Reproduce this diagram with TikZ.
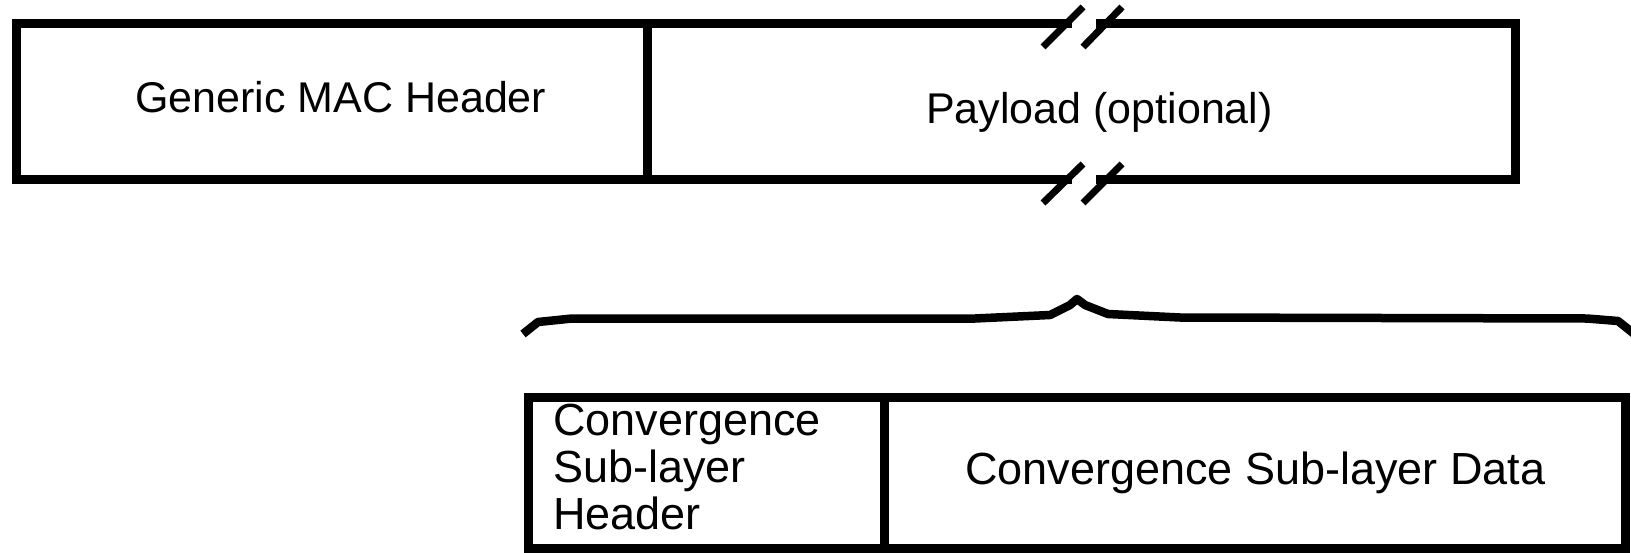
\documentclass[tikz,border=0pt]{standalone}
\usepackage{fontspec}
\setmainfont{Liberation Sans}
\begin{document}
\begin{tikzpicture}[x=1pt,y=-1pt,
  frame/.style={line width=9pt,line join=miter,line cap=rect},
  breakmark/.style={line width=7pt},
  bracestyle/.style={line width=8.5pt,line join=round},
  toplabel/.style={inner sep=0pt,font=\fontsize{43}{47}\selectfont},
  botlabel/.style={inner sep=0pt,font=\fontsize{45}{47}\selectfont}]
\useasboundingbox (0,0) rectangle (1631,552);
% top box, left part (up to the break)
\draw[frame] (1067,23) -- (16,23) -- (16,179) -- (1067,179);
% top box, right part (after the break)
\draw[frame] (1100,23) -- (1515,23) -- (1515,179) -- (1100,179);
\draw[frame,line cap=butt] (647,23) -- (647,184);
% break marks
\draw[breakmark] (1043,47) -- (1083,7);
\draw[breakmark] (1083,47) -- (1122,7);
\draw[breakmark] (1043,203) -- (1083,164);
\draw[breakmark] (1083,203) -- (1122,164);
\node[toplabel,anchor=base west] (gmh) at (135,112) {Generic MAC Header};
\node[toplabel,anchor=base west] (pay) at (926,123) {Payload (optional)};
% brace
\draw[bracestyle] (523,334) -- (538,322) -- (572,318.5) -- (975,318.5) -- (1050,315) -- (1070,305) -- (1077,299) -- (1085,305) -- (1108,314) -- (1180,317.5) -- (1587,318.5) -- (1618,321) -- (1638,337);
% bottom box
\draw[frame] (528,397.5) rectangle (1625,548);
\draw[frame,line cap=butt] (884,397.5) -- (884,548);
\node[botlabel,anchor=base west,align=left] (csh) at (553,529) {Convergence\\Sub-layer\\Header};
\node[botlabel,anchor=base west] (csd) at (965,484) {Convergence Sub-layer Data};
\end{tikzpicture}
\end{document}
